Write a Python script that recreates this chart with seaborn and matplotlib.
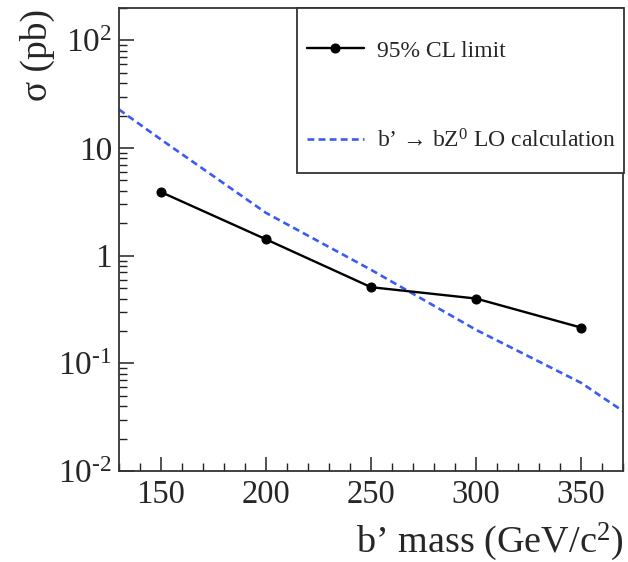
import matplotlib
matplotlib.use("Agg")
import matplotlib.pyplot as plt
import matplotlib.ticker as mticker
from matplotlib.patches import Rectangle
import seaborn as sns
import pandas as pd
import numpy as np

# ---- data ----
limit_mass = [150, 200, 250, 300, 350]
limit_xsec = [3.9, 1.42, 0.51, 0.40, 0.215]
theory_mass = [130, 150, 200, 250, 300, 350, 370]
theory_xsec = [22.8, 12.0, 2.5, 0.74, 0.205, 0.066, 0.036]
x_ticks = [150, 200, 250, 300, 350]
y_ticks = [0.01, 0.1, 1, 10, 100]
y_ticklabels = [r"$\mathregular{10^{\text{-}2}}$", r"$\mathregular{10^{\text{-}1}}$", "1", "10", r"$\mathregular{10^{2}}$"]
label_limit = "95% CL limit"
label_theory = r"b’ → bZ$^{0}$ LO calculation"
xlabel = r"b’ mass (GeV/c$^{2}$)"
ylabel = "σ (pb)"

sns.set_style("ticks")
plt.rcParams["font.family"] = ["Liberation Serif", "DejaVu Serif"]
plt.rcParams["mathtext.fontset"] = "custom"
plt.rcParams["mathtext.rm"] = "Liberation Serif"
plt.rcParams["mathtext.it"] = "Liberation Serif:italic"
plt.rcParams["mathtext.bf"] = "Liberation Serif:bold"

W, H = 628, 562
fig = plt.figure(figsize=(W / 100, H / 100), dpi=100)
ax = fig.add_axes([119 / W, 1 - 471 / H, (623 - 119) / W, (471 - 8) / H])

df_lim = pd.DataFrame({"mass": limit_mass, "xsec": limit_xsec})
df_th = pd.DataFrame({"mass": theory_mass, "xsec": theory_xsec})

sns.lineplot(data=df_th, x="mass", y="xsec", ax=ax, color="#3a5cf5", lw=1.9,
             dashes=False, label=label_theory)
ax.lines[-1].set_dashes((2.6, 1.6))
sns.lineplot(data=df_lim, x="mass", y="xsec", ax=ax, color="black", lw=1.7,
             marker="o", markersize=6.5, markeredgecolor="black", label=label_limit)

ax.set_yscale("log")
ax.set_xlim(130, 370)
ax.set_ylim(0.01, 200)
ax.set_xticks(x_ticks)
ax.set_xticklabels([str(v) for v in x_ticks])
ax.xaxis.set_minor_locator(mticker.MultipleLocator(10))
ax.set_yticks(y_ticks)
ax.set_yticklabels(y_ticklabels)
minor_y = [k * 10.0 ** e for e in range(-2, 3) for k in range(2, 10) if k * 10.0 ** e <= 200]
ax.yaxis.set_minor_locator(mticker.FixedLocator(minor_y))
ax.yaxis.set_minor_formatter(mticker.NullFormatter())

ax.tick_params(axis="both", which="major", direction="in",
               color="#222222", width=1.1)
ax.tick_params(axis="x", which="major", length=10, pad=6, labelsize=23.5)
ax.tick_params(axis="y", which="major", length=11, pad=5, labelsize=24)
ax.tick_params(axis="both", which="minor", direction="in", length=6, width=1.0,
               color="#222222", left=True, bottom=True)
ax.tick_params(top=False, right=False, which="both")
for s in ax.spines.values():
    s.set_visible(True)
    s.set_linewidth(1.3)
    s.set_color("#333333")
ax.set_xlabel("")
ax.set_ylabel("")

fig.text(624 / W, 1 - 542 / H, xlabel, ha="right", va="center", fontsize=27.5)
fig.text(37 / W, 1 - 101 / H, ylabel, ha="center", va="bottom", rotation=90, fontsize=27)

# legend box
rect = Rectangle((297 / W, 1 - 173 / H), (624 - 297) / W, (173 - 8) / H,
                 transform=fig.transFigure, facecolor="white", edgecolor="#333333",
                 lw=1.3, zorder=5)
fig.patches.append(rect)
ax.get_legend().remove()
handles, labels = ax.get_legend_handles_labels()
order = [1, 0]
leg = fig.legend([handles[i] for i in order], [labels[i] for i in order],
                 loc="upper left", bbox_to_anchor=(307 / W, 1 - 40 / H),
                 frameon=False, fontsize=17, handlelength=2.4, handletextpad=0.55,
                 labelspacing=2.85, borderpad=0, borderaxespad=0, numpoints=1)
leg.set_zorder(6)

fig.savefig("out.png", dpi=100)
